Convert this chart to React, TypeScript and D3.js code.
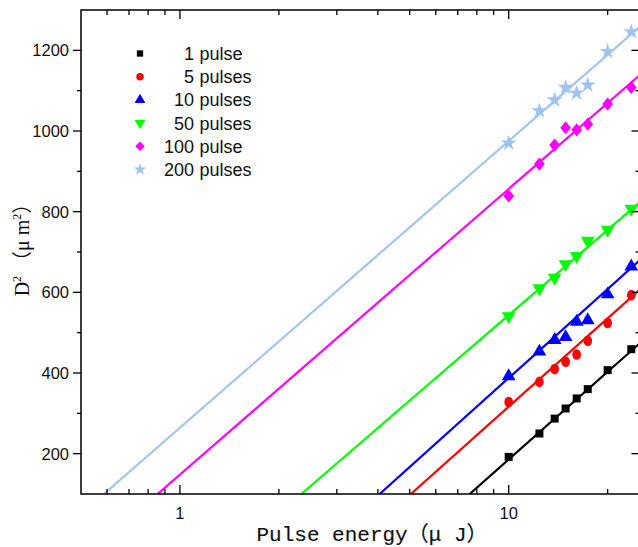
import React, { useRef, useEffect } from 'react';
import * as d3 from 'd3';

// pulse energies (uJ) shared by all series
const energies = [10, 12.4, 13.8, 14.9, 16.1, 17.4, 20, 23.6];

// D^2 values (um^2) per pulse count
const pulses1 = [192, 250, 287, 312, 337, 360, 407, 459];
const pulses5 = [328, 378, 410, 428, 446, 480, 524, 593];
const pulses10 = [392, 453, 482, 489, 527, 531, 595, 664];
const pulses50 = [541, 610, 636, 670, 690, 728, 755, 807];
const pulses100 = [839, 918, 965, 1008, 1003, 1017, 1067, 1108];
const pulses200 = [970, 1050, 1077, 1108, 1094, 1114, 1197, 1246];

// fitted lines: energy where the fit meets the bottom (D^2 = 100), and D^2 at 25 uJ
const fitStartEnergy = [7.61, 5.04, 4.05, 2.34, 0.855, 0.587];
const fitEndValue = [473, 606, 679, 823, 1138, 1258];

const legendLabels = ['1 pulse', '5 pulses', '10 pulses', '50 pulses', '100 pulse', '200 pulses'];
const seriesColors = ['#000000', '#ff0000', '#0000ff', '#00ff00', '#ff00ff', '#a0c4f0'];

const xDomain = [0.5, 25];
const yDomain = [100, 1300];
const yMajorTicks = [200, 400, 600, 800, 1000, 1200];
const yMinorTicks = [300, 500, 700, 900, 1100];
const xMajorTicks = [1, 10];
const xMinorTicks = [0.6, 0.7, 0.8, 0.9, 2, 3, 4, 5, 6, 7, 8, 9, 20];

const seriesValues = [pulses1, pulses5, pulses10, pulses50, pulses100, pulses200];

const W = 638;
const H = 547;

// marker path for series i
const markerPath = (i, small) => {
  const k = small ? 0.62 : 1;
  if (i === 0) return d3.symbol(d3.symbolSquare, 64 * k)();
  if (i === 1) return d3.symbol(d3.symbolCircle, 70 * k)();
  if (i === 2 || i === 3) return d3.symbol(d3.symbolTriangle, 82 * k)();
  if (i === 4) return d3.symbol(d3.symbolSquare, 72 * k)();
  return d3.symbol(d3.symbolStar, 80 * k)();
};
const markerRotate = (i) => (i === 3 ? 180 : i === 4 ? 45 : 0);

const App = () => {
  const svgRef = useRef();

  useEffect(() => {
    const svg = d3.select(svgRef.current);
    svg.selectAll('*').remove();

    const margin = { top: 10, left: 81 };
    const plotRight = 639.5;
    const plotBottom = 494;

    const x = d3.scaleLog().domain(xDomain).range([margin.left, plotRight]);
    const y = d3.scaleLinear().domain(yDomain).range([plotBottom, margin.top]);

    svg.append('defs').append('clipPath').attr('id', 'plot-clip')
      .append('rect')
      .attr('x', margin.left).attr('y', margin.top)
      .attr('width', plotRight - margin.left).attr('height', plotBottom - margin.top);

    // fit lines
    const line = d3.line().x(d => x(d[0])).y(d => y(d[1]));
    const lines = svg.append('g').attr('clip-path', 'url(#plot-clip)');
    seriesColors.forEach((c, i) => {
      lines.append('path')
        .attr('d', line([[fitStartEnergy[i], yDomain[0]], [xDomain[1], fitEndValue[i]]]))
        .attr('fill', 'none')
        .attr('stroke', c)
        .attr('stroke-width', 2.2);
    });

    // data markers (circles a bit taller than wide, diamonds too)
    const pts = svg.append('g').attr('clip-path', 'url(#plot-clip)');
    seriesValues.forEach((vals, i) => {
      const stretch = i === 1 ? 'scale(0.92,1.12) ' : i === 4 ? 'scale(0.9,1.1) ' : '';
      pts.selectAll(null)
        .data(vals)
        .join('path')
        .attr('d', markerPath(i, false))
        .attr('transform', (d, j) =>
          `translate(${x(energies[j])},${y(d)}) ${stretch}rotate(${markerRotate(i)})`)
        .attr('fill', seriesColors[i]);
    });

    // frame
    svg.append('rect')
      .attr('x', margin.left).attr('y', margin.top)
      .attr('width', plotRight - margin.left).attr('height', plotBottom - margin.top)
      .attr('fill', 'none').attr('stroke', '#000').attr('stroke-width', 1.5);

    // left axis ticks (outward) and right axis ticks (inward)
    const ticks = svg.append('g').attr('stroke', '#000').attr('stroke-width', 1.3);
    yMajorTicks.forEach(v => {
      ticks.append('line').attr('x1', margin.left - 8).attr('x2', margin.left).attr('y1', y(v)).attr('y2', y(v));
      ticks.append('line').attr('x1', plotRight - 8).attr('x2', plotRight).attr('y1', y(v)).attr('y2', y(v));
    });
    yMinorTicks.forEach(v => {
      ticks.append('line').attr('x1', margin.left - 4).attr('x2', margin.left).attr('y1', y(v)).attr('y2', y(v));
      ticks.append('line').attr('x1', plotRight - 4).attr('x2', plotRight).attr('y1', y(v)).attr('y2', y(v));
    });
    // top and bottom ticks (inward)
    xMajorTicks.forEach(v => {
      ticks.append('line').attr('x1', x(v)).attr('x2', x(v)).attr('y1', plotBottom).attr('y2', plotBottom - 9);
      ticks.append('line').attr('x1', x(v)).attr('x2', x(v)).attr('y1', margin.top).attr('y2', margin.top + 9);
    });
    xMinorTicks.forEach(v => {
      ticks.append('line').attr('x1', x(v)).attr('x2', x(v)).attr('y1', plotBottom).attr('y2', plotBottom - 5);
      ticks.append('line').attr('x1', x(v)).attr('x2', x(v)).attr('y1', margin.top).attr('y2', margin.top + 5);
    });

    const font = "'Liberation Sans', Arial, sans-serif";
    // tick labels
    svg.append('g').selectAll('text')
      .data(yMajorTicks)
      .join('text')
      .attr('x', 69)
      .attr('y', d => y(d))
      .attr('dy', '0.36em')
      .attr('text-anchor', 'end')
      .attr('font-family', font)
      .attr('font-size', 16.5)
      .attr('fill', '#111')
      .text(d => d);

    svg.append('g').selectAll('text')
      .data(xMajorTicks)
      .join('text')
      .attr('x', d => x(d))
      .attr('y', 519)
      .attr('text-anchor', 'middle')
      .attr('font-family', font)
      .attr('font-size', 16.5)
      .attr('fill', '#111')
      .text(d => d);

    // legend
    const legend = svg.append('g');
    legendLabels.forEach((lab, i) => {
      const ly = 53.5 + i * 23.2;
      const sp = lab.indexOf(' ');
      legend.append('path')
        .attr('d', markerPath(i, true))
        .attr('transform', `translate(140,${ly}) rotate(${markerRotate(i)})`)
        .attr('fill', seriesColors[i]);
      legend.append('text')
        .attr('x', 194).attr('y', ly).attr('dy', '0.36em')
        .attr('text-anchor', 'end')
        .attr('font-family', font).attr('font-size', 18).attr('fill', '#111')
        .text(lab.slice(0, sp));
      legend.append('text')
        .attr('x', 199.5).attr('y', ly).attr('dy', '0.36em')
        .attr('font-family', font).attr('font-size', 18).attr('fill', '#111')
        .text(lab.slice(sp + 1));
    });

    // axis titles
    const titleFont = "'Liberation Mono', 'Noto Sans CJK SC', monospace";
    svg.append('text')
      .attr('x', 372).attr('y', 541)
      .attr('text-anchor', 'middle')
      .attr('font-family', titleFont)
      .attr('font-size', 21)
      .attr('fill', '#111')
      .attr('stroke', '#111')
      .attr('stroke-width', 0.15)
      .text('Pulse energy（μ J）');

    const yt = svg.append('text')
      .attr('transform', 'translate(29,245) rotate(-90)')
      .attr('text-anchor', 'middle')
      .attr('font-family', "'Liberation Serif', 'Noto Sans CJK SC', serif")
      .attr('font-size', 20)
      .attr('fill', '#111');
    yt.append('tspan').text('D');
    yt.append('tspan').attr('font-size', 12).attr('dy', -8).text('2');
    yt.append('tspan').attr('dy', 8).text(' （μ m');
    yt.append('tspan').attr('font-size', 12).attr('dy', -8).text('2');
    yt.append('tspan').attr('dy', 8).text('）');
  }, []);

  return (
    <svg
      ref={svgRef}
      width={W}
      height={H}
      viewBox={`0 0 ${W} ${H}`}
      style={{ position: 'absolute', left: 0, top: 0, background: '#fff' }}
    />
  );
};

export default App;
